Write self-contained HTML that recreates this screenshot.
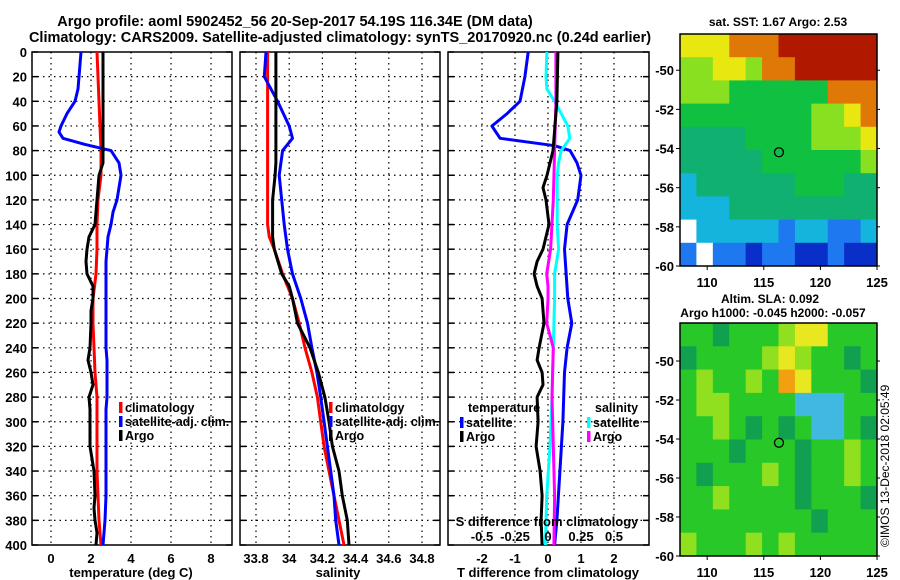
<!DOCTYPE html>
<html><head><meta charset="utf-8">
<style>
html,body{margin:0;padding:0;background:#fff;width:900px;height:580px;overflow:hidden}
svg{display:block;font-family:"Liberation Sans",sans-serif;font-weight:bold}
</style></head>
<body>
<svg id="fig" width="900" height="580" viewBox="0 0 900 580" xmlns="http://www.w3.org/2000/svg">
<text x="295" y="26" font-size="14.5" text-anchor="middle">Argo profile: aoml 5902452_56 20-Sep-2017 54.19S 116.34E (DM data)</text>
<text x="340" y="42" font-size="14.5" text-anchor="middle">Climatology: CARS2009. Satellite-adjusted climatology: synTS_20170920.nc (0.24d earlier)</text>
<text x="778" y="26" font-size="12" text-anchor="middle">sat. SST: 1.67 Argo: 2.53</text>
<text x="770" y="303" font-size="12" text-anchor="middle">Altim. SLA: 0.092</text>
<text x="773" y="317" font-size="12" text-anchor="middle">Argo h1000: -0.045 h2000: -0.057</text>
<text transform="translate(889,547) rotate(-90)" font-size="12" font-weight="normal">©IMOS 13-Dec-2018 02:05:49</text>
<g id="g"></g>
</svg>
<script>
// ---------- data ----------
const depthTicks=[0,20,40,60,80,100,120,140,160,180,200,220,240,260,280,300,320,340,360,380,400];
const tempTicks=[0,2,4,6,8];
const salTicks=[33.8,34,34.2,34.4,34.6,34.8];
const salTickLabels=["33.8","34","34.2","34.4","34.6","34.8"];
const tdiffTicks=[-2,-1,0,1,2];
const sdiffTicks=[-0.5,-0.25,0,0.25,0.5];
const sdiffTickLabels=["-0.5","-0.25","0","0.25","0.5"];
const lonTicks=[110,115,120,125];
const latTicks=[-50,-52,-54,-56,-58,-60];

const tArgoDepth=[0,90,100,110,120,140,150,160,170,180,190,200,210,220,240,250,260,270,280,290,320,330,340,360,370,380,390,400];
const tArgo=[2.6,2.6,2.4,2.35,2.3,2.2,1.9,1.8,1.75,1.8,2.1,2.1,2.0,2.0,1.95,1.85,2.0,2.1,1.9,1.95,1.95,2.05,2.15,2.2,2.15,2.2,2.3,2.25];
const tClimDepth=[0,20,40,80,100,120,140,160,180,200,220,240,260,280,300,340,380,400];
const tClim=[2.3,2.35,2.4,2.5,2.5,2.35,2.3,2.3,2.25,2.1,2.1,2.15,2.2,2.3,2.3,2.3,2.4,2.5];
const tSatDepth=[0,20,30,40,50,60,65,70,75,80,90,100,110,120,130,140,150,160,170,240,250,280,290,360,380,400];
const tSat=[1.5,1.4,1.35,1.2,0.8,0.5,0.4,0.6,1.7,3.0,3.4,3.5,3.4,3.3,3.1,3.0,2.85,2.8,2.75,2.75,2.8,2.8,2.75,2.75,2.7,2.6];

const sArgoDepth=[0,90,100,120,150,160,180,190,200,220,240,260,280,300,320,340,360,380,400];
const sArgo=[33.92,33.92,33.915,33.9,33.9,33.91,33.955,34.0,34.02,34.05,34.125,34.175,34.215,34.24,34.26,34.30,34.32,34.35,34.36];
const sClimDepth=[0,140,150,160,180,200,220,240,260,280,300,320,340,360,380,400];
const sClim=[33.87,33.87,33.88,33.91,33.96,34.02,34.06,34.095,34.137,34.17,34.19,34.21,34.24,34.27,34.30,34.33];
const sSatDepth=[0,20,40,60,70,80,100,140,160,180,200,220,240,260,280,300,320,340,360,380,400];
const sSat=[33.86,33.85,33.93,34.0,34.02,33.96,33.94,33.97,33.99,34.02,34.07,34.11,34.137,34.167,34.19,34.21,34.23,34.25,34.27,34.28,34.30];

const dTSatDepth=[0,20,40,50,60,70,76,80,90,100,120,140,160,200,220,240,260,300,340,380,400];
const dTSat=[-0.6,-0.7,-0.85,-1.24,-1.7,-1.45,0.2,0.67,0.88,1.0,0.9,0.58,0.5,0.6,0.72,0.58,0.5,0.45,0.36,0.27,0.2];
const dTArgoDepth=[0,40,80,90,100,110,120,140,160,170,180,190,200,220,240,250,260,270,280,300,320,340,360,380,400];
const dTArgo=[0.3,0.27,0.15,0.06,-0.03,-0.15,-0.06,0.03,-0.15,-0.33,-0.42,-0.33,-0.18,-0.12,-0.27,-0.33,-0.18,-0.15,-0.33,-0.3,-0.36,-0.24,-0.18,-0.21,-0.18];
const dSSatDepth=[0,20,30,40,50,60,70,80,90,100,140,160,180,200,240,280,320,360,400];
const dSSat=[-0.008,-0.015,-0.008,0.05,0.1,0.15,0.165,0.1,0.08,0.07,0.07,0.08,0.05,0.05,0.04,0.03,0.015,-0.01,-0.02];
const dSArgoDepth=[0,40,80,120,160,180,190,200,220,240,280,320,360,400];
const dSArgo=[0.06,0.06,0.05,0.04,0.02,-0.01,0.0,0.0,-0.01,0.04,0.03,0.04,0.05,0.045];

// SST map grid (rows top->bottom, 0=missing,1 dark blue .. 9 red)
const sstGrid=[
[7,7,7,8,8,8,9,9,9,9,9,9],
[6,6,7,7,6,8,8,9,9,9,9,9],
[6,6,6,5,5,5,5,5,5,8,8,8],
[5,5,5,5,5,5,5,5,6,6,7,8],
[4,4,4,4,5,5,5,5,6,6,6,7],
[4,4,4,4,4,5,5,5,5,5,5,6],
[3,4,4,4,4,4,4,5,5,5,4,4],
[3,3,3,4,4,4,4,4,4,4,4,4],
[0,3,3,3,3,3,2,3,3,2,2,3],
[2,0,2,2,1,2,2,1,1,2,1,1]];
// SLA map grid (0 dark green,1 green,2 yellow-green,3 yellow,4 orange,5 cyan)
const slaGrid=[
[1,1,0,1,1,1,2,3,3,1,1,1],
[0,1,1,1,1,2,3,2,1,1,0,1],
[1,2,1,1,2,1,4,3,1,1,1,0],
[1,2,2,1,1,1,1,5,5,5,1,1],
[1,1,2,1,0,1,0,1,5,5,1,0],
[1,1,1,0,1,1,1,0,1,1,2,1],
[1,0,1,1,1,2,1,0,1,1,2,1],
[1,1,2,1,1,1,1,0,1,1,1,0],
[1,1,1,1,1,1,1,1,0,1,1,1],
[2,1,1,1,2,1,2,1,1,1,1,1]];
const argoLon=116.34, argoLat=-54.19;

// ---------- drawing ----------
const NS="http://www.w3.org/2000/svg";
const G=document.getElementById('g');
function el(tag,attrs,parent){const e=document.createElementNS(NS,tag);for(const k in attrs)e.setAttribute(k,attrs[k]);(parent||G).appendChild(e);return e;}
const PT=52,PB=545;
const yD=d=>PT+(d/400)*(PB-PT);
function lin(d0,d1,r0,r1){return v=>r0+(v-d0)/(d1-d0)*(r1-r0);}

function panel(name,x0,x1,xs,ticks,labels,withY){
  const g=el('g',{});
  
  
  depthTicks.forEach((d,i)=>{
    if(i>0&&i<depthTicks.length-1){const l=el('line',{x1:x0,x2:x1,y1:yD(d),y2:yD(d),stroke:'#000','stroke-width':1.2,'stroke-dasharray':'1.5,4'},g);}
    el('line',{x1:x0,x2:x0+6,y1:yD(d),y2:yD(d),stroke:'#000','stroke-width':1.5},g);
    el('line',{x1:x1-6,x2:x1,y1:yD(d),y2:yD(d),stroke:'#000','stroke-width':1.5},g);
    if(withY){const t=el('text',{x:27,y:yD(d)+5,'font-size':13,'text-anchor':'end'},g);t.textContent=d;}
  });
  ticks.forEach((v,i)=>{
    const x=xs(v);
    const l=el('line',{x1:x,x2:x,y1:PT,y2:PB,stroke:'#000','stroke-width':1.2,'stroke-dasharray':'1.5,4'},g);
    
    const t=el('text',{x:x,y:PB+18,'font-size':13,'text-anchor':'middle'},g);t.textContent=labels[i];
    
  });
  const r=el('rect',{x:x0,y:PT,width:x1-x0,height:PB-PT,fill:'none',stroke:'#000','stroke-width':1.5},g);
  
  return g;
}
function series(name,depths,vals,xs,color,g){
  const pts=depths.map((d,i)=>xs(vals[i]).toFixed(1)+','+yD(d).toFixed(1)).join(' ');
  const p=el('polyline',{points:pts,fill:'none',stroke:color,'stroke-width':3,'stroke-linejoin':'round'},g);
  
  
}
function label(txt,x,y,name,anchor,size){const t=el('text',{x:x,y:y,'font-size':size||13,'text-anchor':anchor||'middle'});t.textContent=txt;return t;}
function legend(items,x,y,name){
  items.forEach((it,i)=>{
    const r=el('rect',{x:x,y:y+i*14-10,width:3.5,height:11,fill:it[1]});
    
    const t=el('text',{x:x+6,y:y+i*14,'font-size':12.5});t.textContent=it[0];
    
  });
}

// Panel 1 temperature
const xT=lin(0,8,51,211);
const p1=panel('temperature-panel',32,232,xT,tempTicks,tempTicks.map(String),true);
series('temp-climatology-line',tClimDepth,tClim,xT,'#ff0000',p1);
series('temp-satellite-line',tSatDepth,tSat,xT,'#0000ff',p1);
series('temp-argo-line',tArgoDepth,tArgo,xT,'#000000',p1);
label('temperature (deg C)',131,577,'temperature-axis-title');
legend([['climatology','#ff0000'],['satellite-adj. clim.','#0000ff'],['Argo','#000']],119,412,'temp-legend');

// Panel 2 salinity
const xS=lin(33.8,34.8,256,422);
const p2=panel('salinity-panel',240,440,xS,salTicks,salTickLabels,false);
series('sal-climatology-line',sClimDepth,sClim,xS,'#ff0000',p2);
series('sal-satellite-line',sSatDepth,sSat,xS,'#0000ff',p2);
series('sal-argo-line',sArgoDepth,sArgo,xS,'#000000',p2);
label('salinity',338,577,'salinity-axis-title');
legend([['climatology','#ff0000'],['satellite-adj. clim.','#0000ff'],['Argo','#000']],329,412,'sal-legend');

// Panel 3 differences
const xDT=lin(0,2,548,614);
const xDS=lin(0,0.5,548,614);
const p3=panel('difference-panel',448,649,xDT,tdiffTicks,tdiffTicks.map(String),false);
series('dT-satellite-line',dTSatDepth,dTSat,xDT,'#0000ff',p3);
series('dS-satellite-line',dSSatDepth,dSSat,xDS,'#00ffff',p3);
series('dS-argo-line',dSArgoDepth,dSArgo,xDS,'#ff00ff',p3);
series('dT-argo-line',dTArgoDepth,dTArgo,xDT,'#000000',p3);
label('T difference from climatology',548,577,'tdiff-axis-title');
label('S difference from climatology',547,526,'sdiff-axis-title');
sdiffTicks.forEach((v,i)=>label(sdiffTickLabels[i],xDS(v),541,'sdiff-tick-label'));
label('temperature',468,412,'dT-legend-title','start',12.5);
label('salinity',595,412,'dS-legend-title','start',12.5);
legend([['satellite','#0000ff'],['Argo','#000']],460,427,'dT-legend');
legend([['satellite','#00ffff'],['Argo','#ff00ff']],587,427,'dS-legend');

// Maps
const sstColors=['#ffffff','#0a2fc8','#1e78f0','#14b4dc','#10b070','#10c040','#88e020','#e8e810','#e07808','#b01800'];
const slaColors=['#10a050','#28c828','#90e020','#e8e820','#f0a010','#40b8e0'];
function map(name,grid,colors,x0,x1,y0,y1,latTop){
  const g=el('g',{});
  
  const xs=lin(107.6,125,x0,x1), ys=lin(latTop,-60,y0,y1);
  const rows=grid.length, cols=grid[0].length;
  const lonStep=(125-107.6)/cols, latStep=(latTop+60)/rows;
  grid.forEach((row,r)=>row.forEach((v,c)=>{
    const xa=xs(107.6+c*lonStep), xb=xs(107.6+(c+1)*lonStep);
    const ya=ys(latTop-r*latStep), yb=ys(latTop-(r+1)*latStep);
    const cell=el('rect',{x:xa,y:ya,width:xb-xa+0.5,height:yb-ya+0.5,fill:colors[v]},g);
    
  }));
  const fr=el('rect',{x:x0,y:y0,width:x1-x0,height:y1-y0,fill:'none',stroke:'#000','stroke-width':1.5},g);
  
  lonTicks.forEach(v=>{el('line',{x1:xs(v),x2:xs(v),y1:y1,y2:y1+4,stroke:'#000'},g);
    const t=el('text',{x:xs(v),y:y1+21,'font-size':13,'text-anchor':'middle'},g);t.textContent=v;});
  latTicks.forEach(v=>{el('line',{x1:x0-4,x2:x0,y1:ys(v),y2:ys(v),stroke:'#000'},g);el('line',{x1:x1,x2:x1+3,y1:ys(v),y2:ys(v),stroke:'#000'},g);
    const t=el('text',{x:x0-6,y:ys(v)+5,'font-size':13,'text-anchor':'end'},g);t.textContent=v;});
  const c=el('circle',{cx:xs(argoLon),cy:ys(argoLat),r:4.5,fill:'none',stroke:'#000','stroke-width':1.3},g);
  
}
map('sst-map',sstGrid,sstColors,680,877,34,266,-48.15);
map('sla-map',slaGrid,slaColors,680,877,323,556,-48.05);
</script>
</body></html>
